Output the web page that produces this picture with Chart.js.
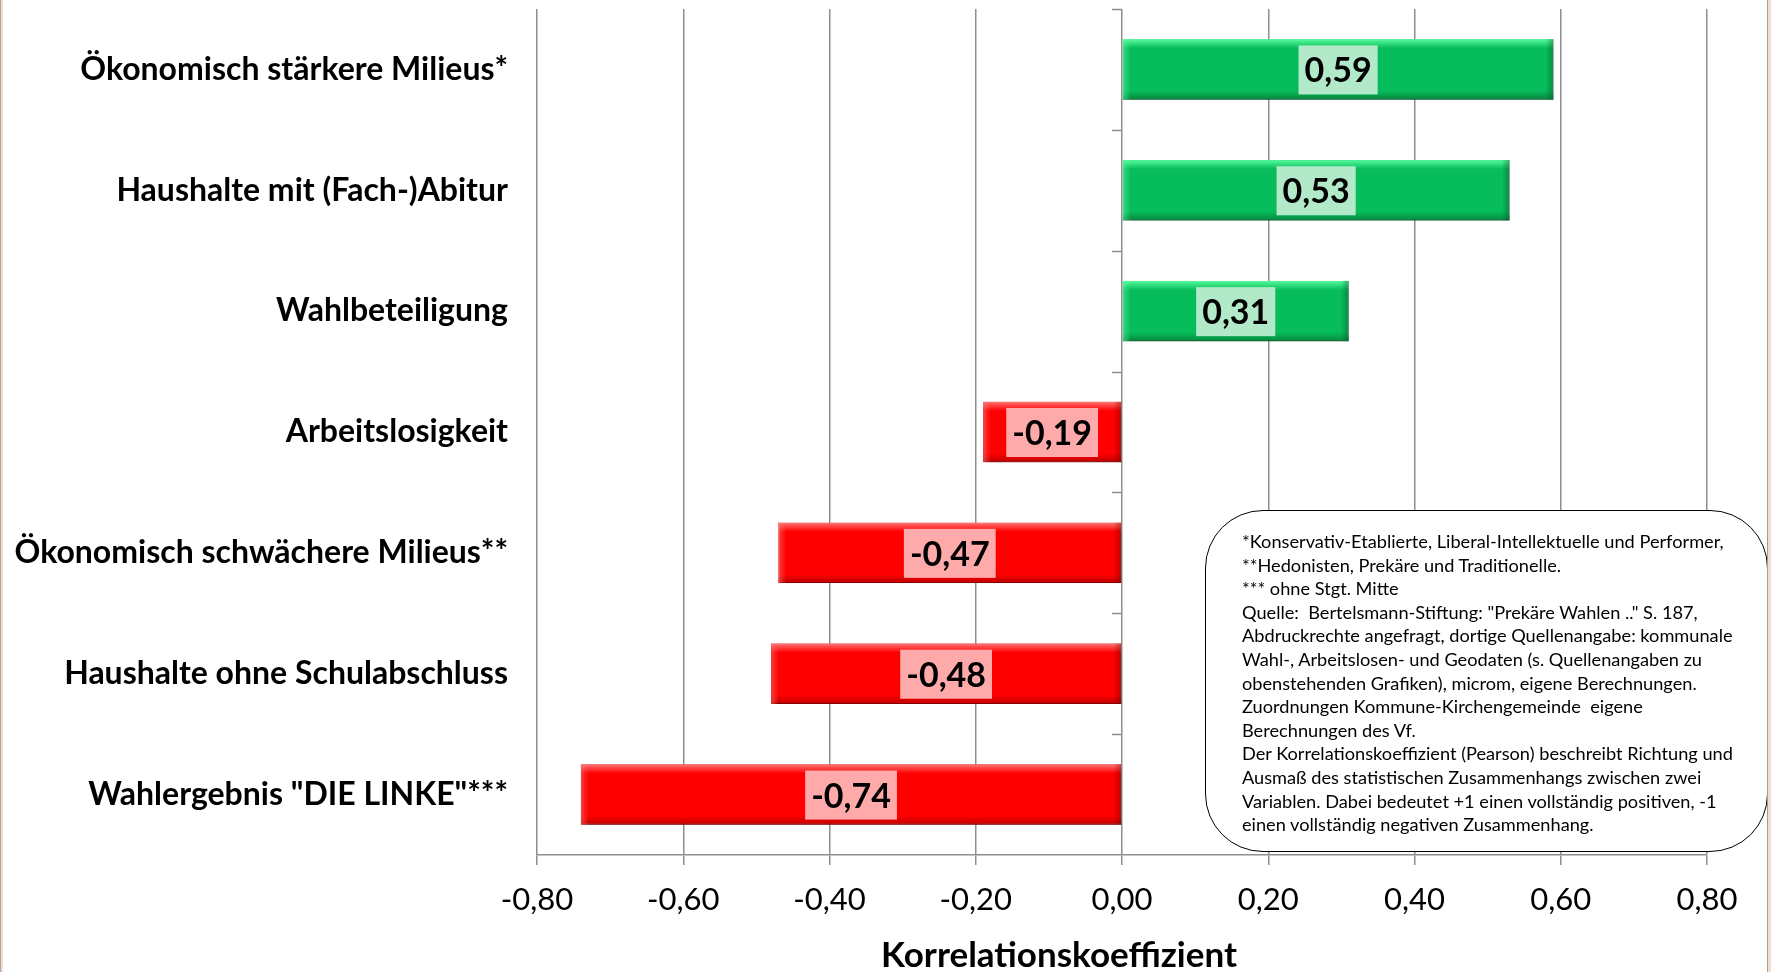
<!DOCTYPE html>
<html>
<head>
<meta charset="utf-8">
<script src="https://cdn.jsdelivr.net/npm/chart.js@4.4.1/dist/chart.umd.min.js"></script>
<style>
  html, body { margin: 0; padding: 0; background: #fff; }
  #wrap { position: relative; width: 1771px; height: 972px; overflow: hidden; }
  #c { display: block; }
  #note {
    position: absolute; left: 1205px; top: 510px; width: 525px; height: 321px;
    border: 1.5px solid #000; border-radius: 58px; background: #fff;
    padding: 19px 0 0 36px; font-family: Lato, sans-serif; font-size: 18.2px;
    line-height: 23.6px; color: #000; white-space: pre;
  }
  .edge { position: absolute; top: 0; height: 972px; }
</style>
</head>
<body>
<div id="wrap">
  <canvas id="c" width="1771" height="972"></canvas>
  <div id="note">*Konservativ-Etablierte, Liberal-Intellektuelle und Performer,
**Hedonisten, Prekäre und Traditionelle.
*** ohne Stgt. Mitte
Quelle:  Bertelsmann-Stiftung: "Prekäre Wahlen .." S. 187,
Abdruckrechte angefragt, dortige Quellenangabe: kommunale
Wahl-, Arbeitslosen- und Geodaten (s. Quellenangaben zu
obenstehenden Grafiken), microm, eigene Berechnungen.
Zuordnungen Kommune-Kirchengemeinde  eigene
Berechnungen des Vf.
Der Korrelationskoeffizient (Pearson) beschreibt Richtung und
Ausmaß des statistischen Zusammenhangs zwischen zwei
Variablen. Dabei bedeutet +1 einen vollständig positiven, -1
einen vollständig negativen Zusammenhang.</div>
  <div class="edge" style="left:0;width:1px;background:#a8a8a8;border-right:2px solid #f6dccb"></div>
  <div class="edge" style="left:1767px;width:1px;background:#a0a0a0;border-right:3px solid #f6dccb"></div>
</div>
<script>
// Werte aus der Grafik
const categories = [
  'Ökonomisch stärkere Milieus*',
  'Haushalte mit (Fach-)Abitur',
  'Wahlbeteiligung',
  'Arbeitslosigkeit',
  'Ökonomisch schwächere Milieus**',
  'Haushalte ohne Schulabschluss',
  'Wahlergebnis "DIE LINKE"***'
];
const values = [0.59, 0.53, 0.31, -0.19, -0.47, -0.48, -0.74];
const xTicks = [-0.8, -0.6, -0.4, -0.2, 0, 0.2, 0.4, 0.6, 0.8];
const axisTitle = 'Korrelationskoeffizient';

const FONT = 'Lato, "Open Sans", sans-serif';
const GREEN = '#07bc5b';
const RED = '#ff0000';

function fmt(v) {
  return (Math.abs(v) < 1e-9 ? 0 : v).toFixed(2).replace('.', ',');
}

// shadow under the bars + bevel edges like the Excel look
const bevel = {
  id: 'bevel',
  beforeDatasetsDraw(chart) {
    const ctx = chart.ctx;
    ctx.save();
    ctx.shadowColor = 'rgba(0,0,0,0.35)';
    ctx.shadowBlur = 7;
    ctx.shadowOffsetX = 2;
    ctx.shadowOffsetY = 4;
  },
  afterDatasetsDraw(chart) {
    const ctx = chart.ctx;
    ctx.restore();
    const meta = chart.getDatasetMeta(0);
    meta.data.forEach((bar, i) => {
      const l = Math.min(bar.x, bar.base), r = Math.max(bar.x, bar.base);
      const t = bar.y - bar.height / 2, b = bar.y + bar.height / 2;
      const pos = values[i] >= 0;
      const light = pos ? 'rgba(90,255,160,' : 'rgba(255,120,120,';
      const dark = pos ? 'rgba(0,70,30,' : 'rgba(110,0,0,';
      let g = ctx.createLinearGradient(0, t, 0, t + 9);
      g.addColorStop(0, light + '0.95)');
      g.addColorStop(1, light + '0)');
      ctx.fillStyle = g;
      ctx.fillRect(l, t, r - l, 9);
      g = ctx.createLinearGradient(0, b - 9, 0, b);
      g.addColorStop(0, dark + '0)');
      g.addColorStop(1, dark + '0.45)');
      ctx.fillStyle = g;
      ctx.fillRect(l, b - 9, r - l, 9);
      g = ctx.createLinearGradient(r - 8, 0, r, 0);
      g.addColorStop(0, dark + '0)');
      g.addColorStop(1, dark + '0.4)');
      ctx.fillStyle = g;
      ctx.fillRect(r - 8, t, 8, b - t);
      g = ctx.createLinearGradient(l, 0, l + 8, 0);
      g.addColorStop(0, light + '0.5)');
      g.addColorStop(1, light + '0)');
      ctx.fillStyle = g;
      ctx.fillRect(l, t, 8, b - t);
    });
  }
};

// value boxes in the middle of the bars
const valueLabels = {
  id: 'valueLabels',
  afterDatasetsDraw(chart) {
    const ctx = chart.ctx;
    const meta = chart.getDatasetMeta(0);
    ctx.save();
    ctx.font = 'bold 34px ' + FONT;
    ctx.textAlign = 'center';
    ctx.textBaseline = 'middle';
    meta.data.forEach((bar, i) => {
      const txt = fmt(values[i]);
      const cx = (bar.x + bar.base) / 2;
      const w = ctx.measureText(txt).width + 12;
      ctx.fillStyle = values[i] >= 0 ? '#b2eac9' : '#ffaaaa';
      ctx.fillRect(cx - w / 2, bar.y - 24, w, 49);
      ctx.fillStyle = '#000';
      ctx.fillText(txt, cx, bar.y + 2);
    });
    ctx.restore();
  }
};

// small tick marks on the zero line + axis title
const zeroAxis = {
  id: 'zeroAxis',
  afterDraw(chart) {
    const ctx = chart.ctx;
    const x0 = chart.scales.x.getPixelForValue(0);
    const ys = chart.scales.y;
    const step = (ys.bottom - ys.top) / categories.length;
    ctx.save();
    ctx.strokeStyle = '#8e8e8e';
    ctx.lineWidth = 1.5;
    ctx.beginPath();
    for (let k = 0; k < categories.length; k++) {
      const y = Math.round(ys.top + k * step) + 0.5;
      ctx.moveTo(x0 - 10, y);
      ctx.lineTo(x0, y);
    }
    ctx.stroke();
    ctx.font = 'bold 35px ' + FONT;
    ctx.fillStyle = '#000';
    ctx.textAlign = 'center';
    ctx.textBaseline = 'alphabetic';
    ctx.fillText(axisTitle, 1059, 967);
    ctx.restore();
  }
};

new Chart(document.getElementById('c'), {
  type: 'bar',
  data: {
    labels: categories,
    datasets: [{
      data: values,
      backgroundColor: values.map(v => v >= 0 ? GREEN : RED),
      borderColor: values.map(v => v >= 0 ? '#05a04c' : '#d00000'),
      borderWidth: 1,
      borderSkipped: false,
      barPercentage: 0.5,
      categoryPercentage: 1
    }]
  },
  options: {
    indexAxis: 'y',
    responsive: false,
    animation: false,
    layout: { padding: { top: 9, right: 64, bottom: 0, left: 0 } },
    plugins: { legend: { display: false }, tooltip: { enabled: false } },
    scales: {
      x: {
        min: -0.8, max: 0.8,
        afterBuildTicks(s) { s.ticks = xTicks.map(v => ({ value: v })); },
        afterFit(s) { s.height = 117; },
        grid: { color: '#8e8e8e', lineWidth: 1.5, tickLength: 10 },
        border: { color: '#8e8e8e', width: 1.5 },
        ticks: {
          padding: 16,
          color: '#000',
          font: { family: FONT, size: 31 },
          callback: v => fmt(v)
        }
      },
      y: {
        afterFit(s) { s.width = 537; s.paddingTop = 0; s.paddingBottom = 0; },
        grid: { display: false, drawTicks: false },
        border: { display: false },
        ticks: {
          padding: 29,
          color: '#000',
          font: { family: FONT, size: 32, weight: 'bold' }
        }
      }
    }
  },
  plugins: [bevel, valueLabels, zeroAxis]
});
</script>
</body>
</html>
